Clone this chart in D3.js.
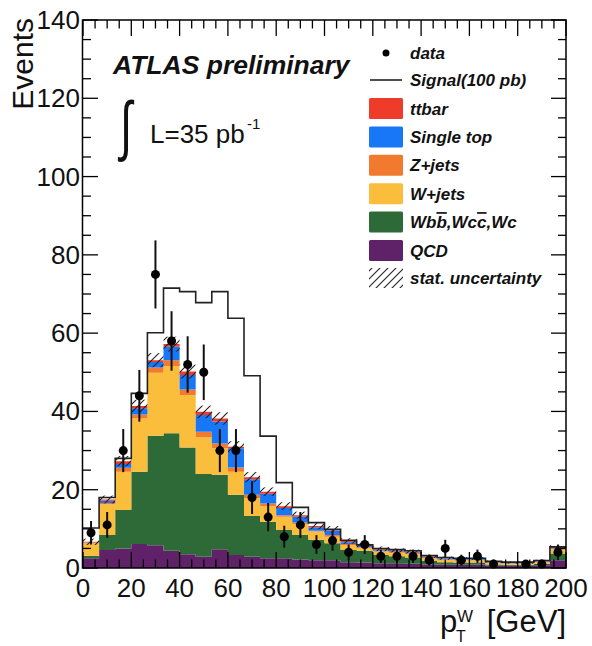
<!DOCTYPE html>
<html><head><meta charset="utf-8">
<script src="https://cdn.jsdelivr.net/npm/d3@7"></script>
<style>body{margin:0;background:#fff} svg{display:block} text{font-family:"Liberation Sans",Arial,Helvetica,sans-serif;fill:#111}</style>
</head><body><svg id="c" width="592" height="646"></svg>
<script>
// ---- data (30 bins, 0-200 GeV) ----
const binEdges = d3.range(31).map(i => i * 200 / 30);
const dataCounts = [9,11,30,44,75,58,52,50,30,30,18,13,8,11,6,7,4,6,3,3,3,2,5,2,3,1,0,1,1,4];
const dataErr    = [3,3.3,5.5,6.6,8.7,7.6,7.2,7.1,5.5,5.5,4.2,3.6,2.8,3.3,2.4,2.6,2,2.4,1.7,1.7,1.7,1.4,2.2,1.4,1.7,1,0,1,1,2];
const qcd    = [2.5,4.6,5.0,6.1,5.8,4.4,3.5,2.9,4.8,3.3,2.9,2.5,2.5,2.2,2.0,2.0,1.5,1.4,1.2,1.2,1.1,0.9,0.8,0.8,0.8,0.6,0.6,0.6,0.7,2.0];
const wbb    = [0.6,3.8,9.8,18.5,28.0,30.0,27.3,21.1,19.0,15.4,10.4,9.3,7.2,6.2,5.2,4.3,3.1,3.0,2.1,1.8,1.6,0.9,0.7,0.6,0.6,0.3,0.2,0.2,0.3,1.7];
const wjets  = [3.2,7.9,9.8,13.6,16.1,17.2,13.4,9.4,6.8,5.9,4.5,4.0,3.4,2.8,2.1,1.7,1.2,0.7,0.9,0.9,0.9,0.7,0.6,0.6,0.6,0.4,0.3,0.3,0.5,1.1];
const zjets  = [0.2,0.3,1.0,1.0,1.3,1.5,1.4,1.4,1.2,1.1,0.9,0.7,0.4,0.4,0.2,0.4,0.3,0.2,0.2,0.2,0.2,0.1,0.1,0.1,0.1,0.1,0.1,0.1,0.1,0.2];
const stop   = [0.1,0.6,1.0,1.6,1.4,3.4,3.7,4.3,5.6,4.9,4.0,2.5,1.8,1.5,0.9,1.2,0.5,0.3,0.3,0.2,0.2,0.2,0.2,0.2,0.2,0.1,0.1,0.1,0.1,0.1];
const ttbar  = [0.1,0.3,0.7,0.6,0.5,0.7,0.9,0.8,0.8,0.4,0.5,0.5,0.5,0.4,0.3,0.3,0.3,0.2,0.2,0.2,0.2,0.2,0.1,0.1,0.1,0.1,0.1,0.1,0.1,0.2];
const signalTotal = [10.2,18.0,28.0,44.6,60.1,71.5,70.6,67.8,70.6,63.8,49.1,33.7,21.8,15.5,11.6,9.9,7.1,5.9,5.0,4.7,4.4,3.2,2.7,2.5,2.5,1.7,1.5,1.5,1.9,5.4];
const statUnc = [0.8,1.0,1.3,1.6,1.8,1.9,1.8,1.6,1.6,1.4,1.3,1.1,1.0,0.9,0.8,0.8,0.7,0.6,0.6,0.5,0.5,0.4,0.4,0.4,0.4,0.3,0.3,0.3,0.3,0.5];
const xTicks = [0,20,40,60,80,100,120,140,160,180,200];
const yTicks = [0,20,40,60,80,100,120,140];
const keys = ["qcd","wbb","wjets","zjets","stop","ttbar"];
const colors = {qcd:"#5f2268",wbb:"#2d6a37",wjets:"#fbbd3c",zjets:"#f27a2e",stop:"#1877f7",ttbar:"#ee3b2a"};
const legendKeys = ["ttbar","stop","zjets","wjets","wbb","qcd"];
const legendNames = {ttbar:"ttbar",stop:"Single top",zjets:"Z+jets",wjets:"W+jets",qcd:"QCD"};

// ---- drawing ----
const svg = d3.select("#c");
const x = d3.scaleLinear().domain([0,200]).range([83,566]);
const y = d3.scaleLinear().domain([0,140]).range([568,20]);

const defs = svg.append("defs");
const pat = defs.append("pattern").attr("id","hatch").attr("patternUnits","userSpaceOnUse")
  .attr("width",8).attr("height",8);
pat.append("path").attr("d","M-1,1 l2,-2 M0,8 l8,-8 M7,9 l2,-2").attr("stroke","#222").attr("stroke-width",1.1);

const rows = dataCounts.map((_, i) => ({i, qcd:qcd[i], wbb:wbb[i], wjets:wjets[i], zjets:zjets[i], stop:stop[i], ttbar:ttbar[i]}));
const series = d3.stack().keys(keys)(rows);

function stepPts(arr0, arr1) {
  const pts = [];
  arr1.forEach((v, i) => {
    pts.push({x: binEdges[i], y0: arr0[i], y1: v});
    pts.push({x: binEdges[i+1], y0: arr0[i], y1: v});
  });
  return pts;
}
const area = d3.area().x(p => x(p.x)).y0(p => y(p.y0)).y1(p => y(p.y1));
series.forEach(s => {
  const pts = stepPts(s.map(d => d[0]), s.map(d => d[1]));
  svg.append("path").attr("d", area(pts)).attr("fill", colors[s.key]);
});

// stat uncertainty band
const tops = series[series.length-1].map(d => d[1]);
svg.append("g").selectAll("rect").data(tops).join("rect")
  .attr("x", (d,i) => x(binEdges[i])).attr("width", (d,i) => x(binEdges[i+1]) - x(binEdges[i]))
  .attr("y", (d,i) => y(d + statUnc[i])).attr("height", (d,i) => y(d - statUnc[i]) - y(d + statUnc[i]))
  .attr("fill","url(#hatch)");

// signal line
const sigPts = [];
signalTotal.forEach((v,i) => { sigPts.push([binEdges[i], v]); sigPts.push([binEdges[i+1], v]); });
svg.append("path").attr("d", d3.line().x(p => x(p[0])).y(p => y(p[1]))(sigPts))
  .attr("fill","none").attr("stroke","#222").attr("stroke-width",1.6);

// data points
const centers = dataCounts.map((_, i) => (binEdges[i] + binEdges[i+1]) / 2);
const dg = svg.append("g");
dataCounts.forEach((c, i) => {
  if (c <= 0) return;
  dg.append("line").attr("x1", x(centers[i])).attr("x2", x(centers[i]))
    .attr("y1", y(c - dataErr[i])).attr("y2", y(c + dataErr[i]))
    .attr("stroke","#111").attr("stroke-width",2);
  dg.append("circle").attr("cx", x(centers[i])).attr("cy", y(c)).attr("r", 4.5).attr("fill","#000");
});

// axes / frame
const [x0, x1] = x.range(), [yb, yt] = y.range();
const tg = svg.append("g").attr("stroke","#000").attr("stroke-width",1.3);
d3.range(0, 201, 5).forEach(v => {
  const L = v % 20 === 0 ? 16 : 8.5;
  tg.append("line").attr("x1", x(v)).attr("x2", x(v)).attr("y1", yb).attr("y2", yb - L);
  tg.append("line").attr("x1", x(v)).attr("x2", x(v)).attr("y1", yt).attr("y2", yt + L);
});
d3.range(0, 141, 5).forEach(v => {
  const L = v % 20 === 0 ? 15 : 8;
  tg.append("line").attr("x1", x0).attr("x2", x0 + L).attr("y1", y(v)).attr("y2", y(v));
  tg.append("line").attr("x1", x1).attr("x2", x1 - L).attr("y1", y(v)).attr("y2", y(v));
});
svg.append("rect").attr("x", x0 - 0.5).attr("y", yt).attr("width", x1 - x0 + 0.5).attr("height", yb - yt)
  .attr("fill","none").attr("stroke","#000").attr("stroke-width",1.5);

svg.append("g").selectAll("text").data(xTicks).join("text")
  .attr("x", d => x(d)).attr("y", 597).attr("text-anchor","middle").attr("font-size",26).text(d => d);
svg.append("g").selectAll("text").data(yTicks).join("text")
  .attr("x", 80).attr("y", d => y(d) + 9).attr("text-anchor","end").attr("font-size",26).text(d => d);

// axis titles
svg.append("text").attr("transform","translate(33,18) rotate(-90)").attr("text-anchor","end")
  .attr("font-size",30).text("Events");
svg.append("text").attr("x",440).attr("y",632).attr("font-size",31).text("p");
svg.append("text").attr("x",457).attr("y",622).attr("font-size",17).text("W");
svg.append("text").attr("x",456).attr("y",642).attr("font-size",16).text("T");
svg.append("text").attr("x",566).attr("y",632).attr("text-anchor","end").attr("font-size",31).text("[GeV]");

// labels
svg.append("text").attr("x",113).attr("y",74).attr("font-size",26.5).attr("font-weight","bold")
  .attr("font-style","italic").text("ATLAS preliminary");
svg.append("text").attr("transform","translate(120,148) scale(1,1.5)").attr("font-family","DejaVu Sans")
  .attr("font-size",44).text("∫");
svg.append("text").attr("x",150).attr("y",143).attr("font-size",26).text("L=35 pb");
svg.append("text").attr("x",247).attr("y",129).attr("font-size",15).text("-1");

// legend
const lg = svg.append("g").attr("font-size",17).attr("font-style","italic").attr("font-weight","bold");
lg.append("circle").attr("cx",386).attr("cy",53).attr("r",3.5).attr("fill","#000");
lg.append("text").attr("x",410).attr("y",59).text("data");
lg.append("line").attr("x1",370).attr("x2",402).attr("y1",80).attr("y2",80).attr("stroke","#222").attr("stroke-width",1.6);
lg.append("text").attr("x",410).attr("y",86).text("Signal(100 pb)");
legendKeys.forEach((k, j) => {
  const cy = 108.5 + j * 28.4;
  lg.append("rect").attr("x",369).attr("y",cy - 10.5).attr("width",34).attr("height",21).attr("rx",1.5).attr("fill",colors[k]);
  const t = lg.append("text").attr("x",410).attr("y",cy + 6);
  if (k === "wbb") {
    t.append("tspan").text("Wb");
    t.append("tspan").style("text-decoration","overline").text("b");
    t.append("tspan").text(",Wc");
    t.append("tspan").style("text-decoration","overline").text("c");
    t.append("tspan").text(",Wc");
  } else t.text(legendNames[k]);
});
lg.append("rect").attr("x",369).attr("y",268).attr("width",34).attr("height",20).attr("fill","url(#hatch)");
lg.append("text").attr("x",410).attr("y",284).text("stat. uncertainty");
</script></body></html>
